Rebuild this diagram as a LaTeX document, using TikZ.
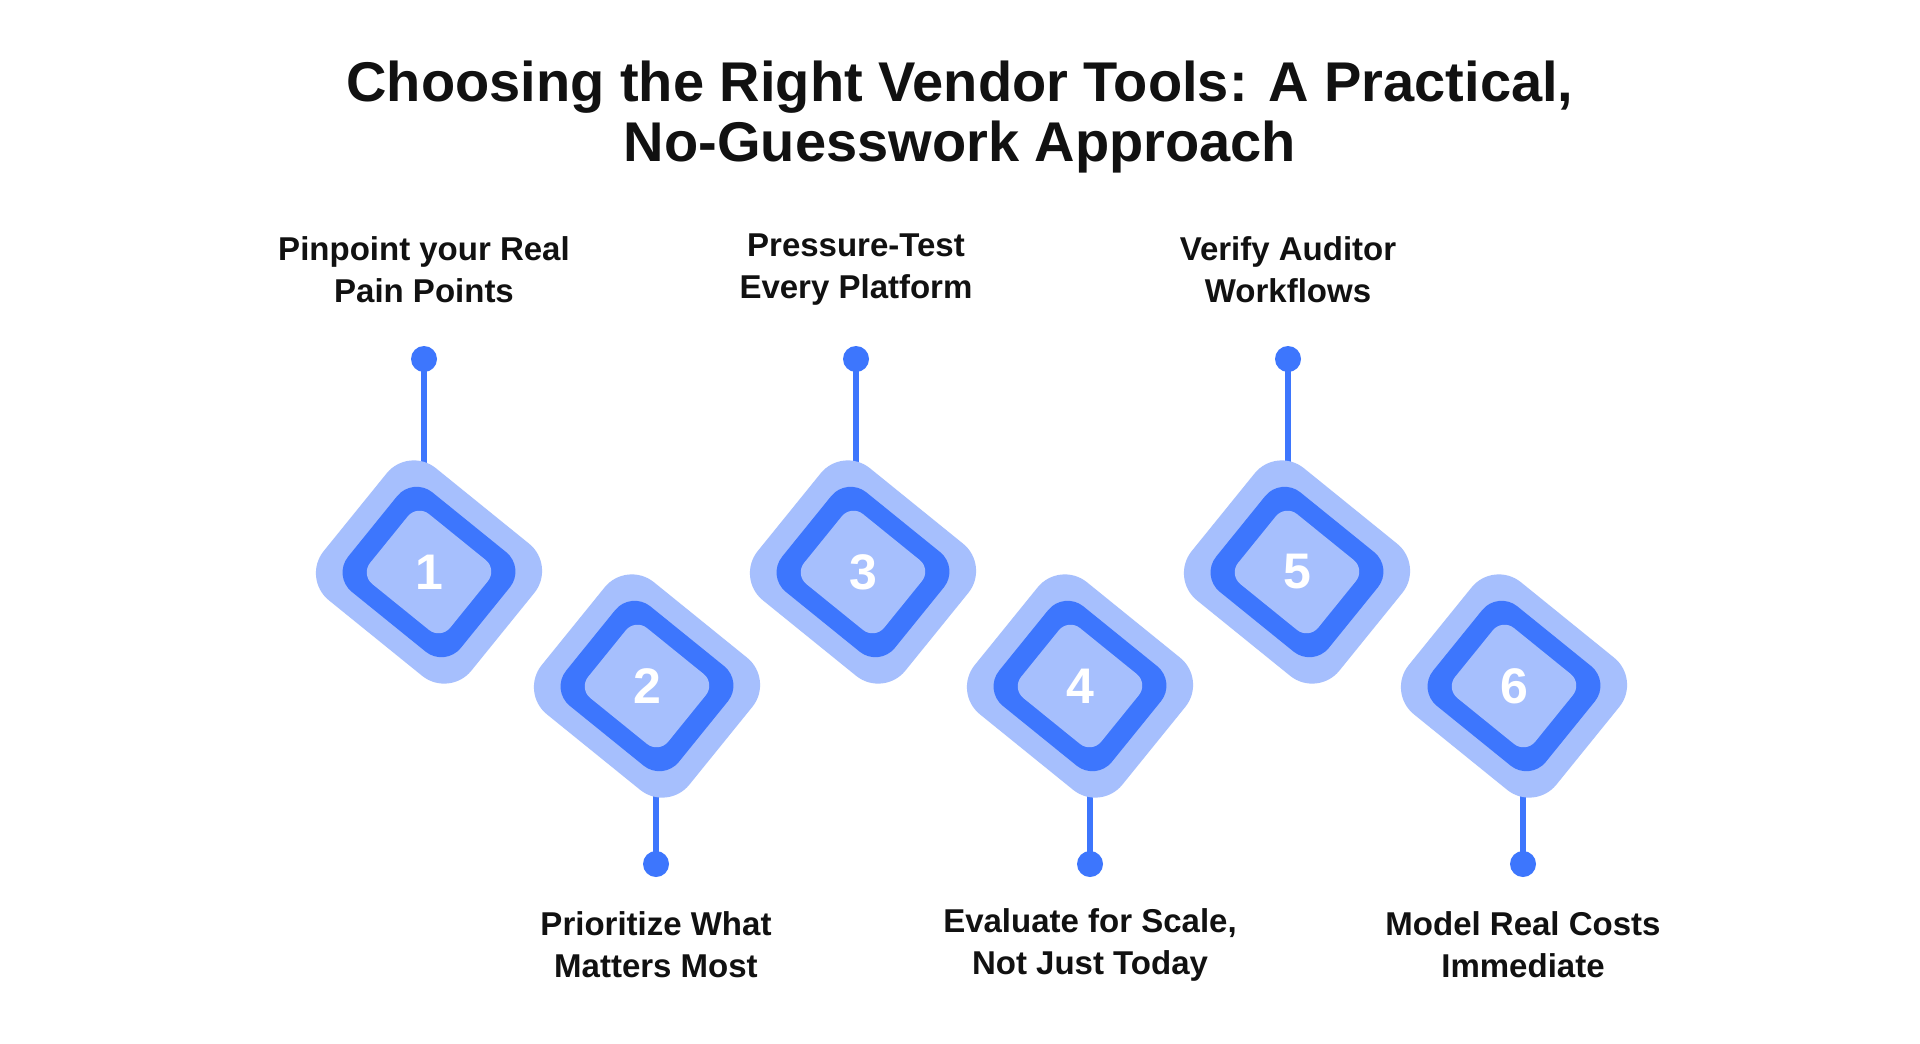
\documentclass[tikz,border=0pt]{standalone}
\usepackage{fontspec}
\setmainfont{Liberation Sans}
\definecolor{lite}{HTML}{A6BFFD}
\definecolor{dark}{HTML}{3D76FD}
\definecolor{ink}{HTML}{111111}
\begin{document}
\begin{tikzpicture}[x=1pt,y=-1pt,
  outer/.style={rectangle,fill=lite,rounded corners=35pt,minimum width=190pt,minimum height=170pt,rotate=-39,inner sep=0},
  mid/.style={rectangle,fill=dark,rounded corners=25pt,minimum width=145pt,minimum height=128pt,rotate=-39,inner sep=0},
  inn/.style={rectangle,fill=lite,rounded corners=15pt,minimum width=103pt,minimum height=90pt,rotate=-39,inner sep=0},
  num/.style={text=white,font=\fontsize{50}{50}\selectfont\bfseries},
  pin/.style={draw=dark,line width=6pt},
  dot/.style={circle,fill=dark,minimum size=26pt,inner sep=0},
  lab/.style={align=center,text=ink,font=\fontsize{33}{42}\selectfont\bfseries}]
\useasboundingbox[fill=white] (0,0) rectangle (1920,1044);
\node[align=center,text=ink,font=\fontsize{56}{60}\selectfont\bfseries] (title) at (960,117) {Choosing the Right Vendor Tools: A Practical,\\No-Guesswork Approach};
\foreach \i/\x/\y/\px/\py/\ly/\t in {
 1/429/572/424/359/270/{Pinpoint your Real\\Pain Points},
 2/647/686/656/864/945/{Prioritize What\\Matters Most},
 3/863/572/856/359/270/{Pressure-Test\\Every Platform},
 4/1080/686/1090/864/945/{Evaluate for Scale,\\Not Just Today},
 5/1297/572/1288/359/270/{Verify Auditor\\Workflows},
 6/1514/686/1523/864/945/{Model Real Costs\\Immediate}}{
  \coordinate (c\i) at (\x,\y);
  \node[dot] (d\i) at (\px,\py) {};
  \draw[pin] (d\i.center) -- (\px,\y);
  \node[outer] (o\i) at (c\i) {};
  \node[mid] (m\i) at (c\i) {};
  \node[inn] (n\i) at (c\i) {};
  \node[num] (k\i) at (c\i) {\i};
  \node[lab] (l\i) at (\px,\ly) {\t};
}
\end{tikzpicture}
\end{document}
